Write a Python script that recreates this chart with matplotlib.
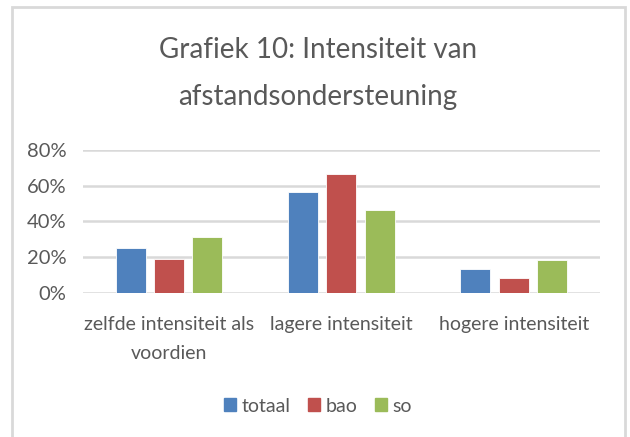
import matplotlib
matplotlib.use("Agg")
import matplotlib.pyplot as plt
from matplotlib.patches import Rectangle
import numpy as np

categories = ["zelfde intensiteit als\nvoordien", "lagere intensiteit", "hogere intensiteit"]
series_names = ["totaal", "bao", "so"]
totaal = [0.25, 0.565, 0.135]
bao = [0.19, 0.665, 0.085]
so = [0.31, 0.465, 0.185]
colors = ["#4F81BD", "#C0504D", "#9BBB59"]
yticks = [0, 0.2, 0.4, 0.6, 0.8]
ytick_labels = ["0%", "20%", "40%", "60%", "80%"]
title = "Grafiek 10: Intensiteit van\nafstandsondersteuning"

plt.rcParams['font.family'] = ['Lato', 'DejaVu Sans']
txt = "#595959"

fig = plt.figure(figsize=(6.3, 4.37), dpi=100)
ax = fig.add_axes([0.1317, 0.330, 0.952 - 0.1317, 0.327])

x = np.arange(len(categories))
width = 0.174
step = 0.222
for i, (vals, name) in enumerate(zip([totaal, bao, so], series_names)):
    ax.bar(x + (i - 1) * step, vals, width, color=colors[i], label=name,
           edgecolor="white", linewidth=0.6, zorder=3)

ax.set_xlim(-0.5, 2.5)
ax.set_ylim(0, 0.8)
ax.set_yticks(yticks)
ax.set_yticklabels(ytick_labels, color=txt, fontsize=14.5)
ax.set_xticks(x)
ax.set_xticklabels(categories, color=txt, fontsize=14, linespacing=1.8)
ax.tick_params(length=0, pad=12)
ax.tick_params(axis='x', pad=17)
ax.grid(axis='y', color="#d9d9d9", linewidth=1.8, zorder=0)
for s in ax.spines.values():
    s.set_visible(False)

fig.text(0.505, 1 - 73 / 437, title, ha="center", va="center", fontsize=20,
         color=txt, linespacing=2.0)

handles = [Rectangle((0, 0), 1, 1, color=c) for c in colors]
fig.legend(handles, series_names, loc="center", bbox_to_anchor=(0.505, 1 - 406 / 437),
           ncol=3, frameon=False, fontsize=14, labelcolor=txt, handlelength=0.6,
           handleheight=0.6, handletextpad=0.3, columnspacing=0.9)

border = Rectangle((12 / 630, -0.05), (625 - 12) / 630, 1 - 7 / 437 + 0.05,
                   transform=fig.transFigure, fill=False, edgecolor="#d9d9d9",
                   linewidth=2)
fig.patches.append(border)

fig.savefig("out.png", dpi=100)
